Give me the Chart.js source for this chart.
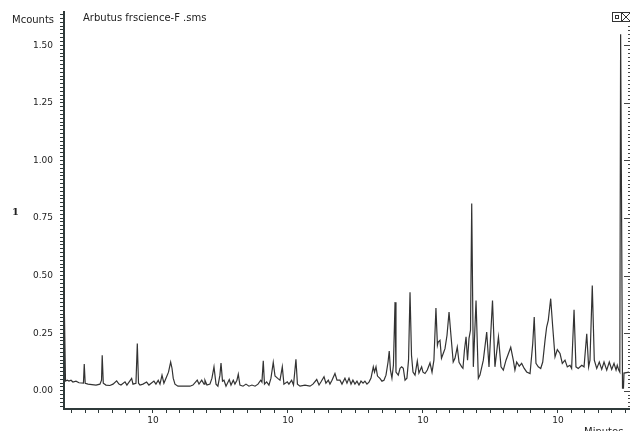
<!DOCTYPE html>
<html>
<head>
<meta charset="utf-8">
<script src="https://cdn.jsdelivr.net/npm/chart.js@4.4.1/dist/chart.umd.min.js"></script>
<style>
  html, body { margin: 0; padding: 0; background: #ffffff; }
  #wrap { position: relative; width: 630px; height: 431px; }
  canvas { display: block; }
</style>
</head>
<body>
<div id="wrap"><canvas id="chart" width="630" height="431"></canvas></div>
<script>
// Total ion chromatogram, retention time (minutes) vs. intensity (Mcounts)
const fileTitle = 'Arbutus frscience-F .sms';
const yUnit = 'Mcounts';
const xUnit = 'Minutes';
const sideMark = '1';

// retention times (min)
const times = [
  3.41, 3.52, 3.65, 3.78, 3.93, 4.07, 4.30, 4.52, 4.85, 4.91, 4.98, 5.19, 5.48, 5.78, 6.07, 6.19, 6.24, 6.32,
  6.52, 6.81, 7.04, 7.31, 7.48, 7.63, 7.93, 8.07, 8.42, 8.52, 8.74, 8.84, 8.93, 9.04, 9.26, 9.53, 9.70,
  10.07, 10.22, 10.39, 10.52, 10.67, 10.81, 11.01, 11.15, 11.31, 11.41, 11.50, 11.63, 11.85, 12.37, 12.74,
  12.96, 13.28, 13.41, 13.61, 13.78, 13.85, 14.00, 14.22, 14.37, 14.52, 14.67, 14.81, 14.96, 15.04, 15.15,
  15.26, 15.41, 15.65, 15.78, 15.95, 16.07, 16.22, 16.32, 16.44, 16.67, 16.89, 17.11, 17.33, 17.56, 17.78,
  17.98, 18.07, 18.17, 18.26, 18.42, 18.59, 18.74, 18.91, 19.04, 19.24, 19.41, 19.58, 19.70, 19.95, 20.07,
  20.27, 20.41, 20.59, 20.70, 20.89, 21.26, 21.63, 21.85, 22.13, 22.30, 22.44, 22.67, 22.81, 22.99, 23.11,
  23.26, 23.48, 23.63, 23.85, 24.00, 24.22, 24.37, 24.52, 24.67, 24.81, 24.96, 25.11, 25.26, 25.41, 25.56,
  25.70, 25.85, 26.00, 26.15, 26.32, 26.41, 26.52, 26.63, 26.81, 26.96, 27.11, 27.26, 27.41, 27.50, 27.59,
  27.70, 27.81, 27.93, 28.00, 28.17, 28.30, 28.42, 28.54, 28.67, 28.81, 28.93, 29.04, 29.15, 29.26, 29.41,
  29.58, 29.70, 29.90, 30.00, 30.15, 30.32, 30.52, 30.67, 30.81, 30.96, 31.07, 31.13, 31.26, 31.37, 31.50,
  31.63, 31.78, 31.93, 32.04, 32.24, 32.37, 32.54, 32.67, 32.87, 32.96, 33.07, 33.19, 33.30, 33.41, 33.52,
  33.61, 33.73, 33.93, 34.10, 34.22, 34.47, 34.72, 34.89, 35.15, 35.33, 35.59, 35.78, 35.95, 36.15, 36.50,
  36.69, 36.81, 36.94, 37.13, 37.31, 37.50, 37.68, 37.93, 38.13, 38.24, 38.37, 38.54, 38.72, 38.87, 39.04,
  39.16, 39.28, 39.46, 39.61, 39.78, 39.95, 40.15, 40.32, 40.52, 40.69, 40.89, 41.01, 41.19, 41.33, 41.50,
  41.76, 41.93, 42.13, 42.27, 42.37, 42.54, 42.69, 42.87, 43.06, 43.24, 43.41, 43.61, 43.80, 43.98, 44.15,
  44.30, 44.39, 44.50, 44.58, 44.64, 44.78, 44.85, 44.89, 45.26
];

// intensity (Mcounts)
const counts = [
  0.449, 0.042, 0.046, 0.042, 0.046, 0.038, 0.042, 0.035, 0.033, 0.116, 0.033, 0.029, 0.027, 0.025, 0.029, 0.046, 0.154, 0.033,
  0.025, 0.023, 0.029, 0.043, 0.029, 0.025, 0.039, 0.025, 0.054, 0.029, 0.033, 0.205, 0.033, 0.025, 0.029, 0.038, 0.025,
  0.042, 0.029, 0.046, 0.029, 0.068, 0.033, 0.061, 0.081, 0.125, 0.098, 0.055, 0.029, 0.020, 0.020, 0.020,
  0.025, 0.046, 0.029, 0.046, 0.029, 0.046, 0.025, 0.029, 0.055, 0.104, 0.029, 0.020, 0.068, 0.121, 0.042,
  0.046, 0.020, 0.049, 0.025, 0.046, 0.029, 0.046, 0.072, 0.025, 0.020, 0.029, 0.020, 0.025, 0.020, 0.029,
  0.046, 0.038, 0.130, 0.029, 0.039, 0.025, 0.055, 0.123, 0.064, 0.054, 0.046, 0.104, 0.029, 0.039, 0.029,
  0.046, 0.025, 0.137, 0.029, 0.020, 0.025, 0.020, 0.029, 0.049, 0.025, 0.038, 0.061, 0.033, 0.046, 0.029,
  0.046, 0.075, 0.046, 0.046, 0.029, 0.055, 0.033, 0.055, 0.029, 0.046, 0.029, 0.042, 0.025, 0.042, 0.033,
  0.042, 0.029, 0.038, 0.055, 0.104, 0.081, 0.104, 0.064, 0.054, 0.042, 0.046, 0.068, 0.124, 0.173, 0.090,
  0.055, 0.111, 0.385, 0.081, 0.068, 0.098, 0.104, 0.098, 0.046, 0.055, 0.133, 0.428, 0.154, 0.081, 0.068,
  0.129, 0.077, 0.104, 0.081, 0.075, 0.090, 0.121, 0.081, 0.133, 0.359, 0.198, 0.212, 0.219, 0.141, 0.162,
  0.183, 0.241, 0.342, 0.263, 0.125, 0.141, 0.190, 0.124, 0.104, 0.098, 0.176, 0.234, 0.133, 0.228, 0.263,
  0.813, 0.104, 0.392, 0.054, 0.068, 0.133, 0.255, 0.104, 0.392, 0.104, 0.234, 0.104, 0.090, 0.133, 0.189,
  0.133, 0.090, 0.125, 0.107, 0.119, 0.097, 0.082, 0.075, 0.205, 0.320, 0.119, 0.104, 0.097, 0.125, 0.219,
  0.277, 0.306, 0.400, 0.277, 0.147, 0.179, 0.162, 0.119, 0.133, 0.104, 0.111, 0.097, 0.352, 0.104, 0.097,
  0.111, 0.104, 0.248, 0.104, 0.133, 0.457, 0.133, 0.097, 0.125, 0.093, 0.125, 0.090, 0.125, 0.093, 0.119,
  0.090, 0.111, 0.090, 0.081, 1.548, 0.012, 0.012, 0.077, 0.081
];

// axis labels
const yTickValues = [0, 0.25, 0.5, 0.75, 1.0, 1.25, 1.5];
const yTickLabels = ['0.00', '0.25', '0.50', '0.75', '1.00', '1.25', '1.50'];
const xTickValues = [10, 20, 30, 40];
const xTickLabels = ['10', '10', '10', '10'];

const X_MIN = 3.41, X_MAX = 45.26;
const Y_MIN = -0.079, Y_MAX = 1.643;
const Y_MINOR_PER_MAJOR = 15;
const AXIS_COLOR = '#2f3a3a';
const FONT = 'DejaVu Sans';

function yMinorTicks() {
  const out = [];
  const step = 0.25 / Y_MINOR_PER_MAJOR;
  const k0 = Math.ceil(Y_MIN / step), k1 = Math.floor(Y_MAX / step);
  for (let k = k0; k <= k1; k++) out.push({ value: k * step, major: k % Y_MINOR_PER_MAJOR === 0 });
  return out;
}
function xMinorTicks() {
  const out = [];
  for (let m = Math.ceil(X_MIN); m <= Math.floor(X_MAX); m++) out.push({ value: m });
  return out;
}
function labelFor(values, labels, v) {
  for (let i = 0; i < values.length; i++) if (Math.abs(values[i] - v) < 1e-6) return labels[i];
  return '';
}

// captions, icon box and the dotted right-hand axis
const decorations = {
  id: 'decorations',
  afterDraw(chart) {
    const { ctx } = chart;
    const ys = chart.scales.y;
    ctx.save();
    ctx.fillStyle = '#222';
    ctx.textBaseline = 'alphabetic';
    ctx.textAlign = 'left';
    ctx.font = '10px "' + FONT + '"';
    ctx.fillText(yUnit, 12, 23);
    ctx.fillText(fileTitle, 83, 21);
    ctx.fillText(xUnit, 584, 435);
    ctx.font = 'bold 10px "DejaVu Serif"';
    ctx.fillText(sideMark, 12, 215);

    // right-hand axis: tick dashes only
    ctx.strokeStyle = '#444';
    ctx.lineWidth = 1;
    ys.ticks.forEach(t => {
      const py = Math.round(ys.getPixelForValue(t.value)) + 0.5;
      if (py < 26) return;
      ctx.beginPath();
      ctx.moveTo(t.major ? 624 : 628, py);
      ctx.lineTo(630, py);
      ctx.stroke();
    });

    // small icon pair in the top-right corner
    ctx.strokeStyle = '#333';
    ctx.lineWidth = 1;
    ctx.strokeRect(612.5, 12.5, 9, 9);
    ctx.strokeRect(615.5, 15.5, 3, 3);
    ctx.strokeRect(621.5, 12.5, 9, 9);
    ctx.beginPath();
    ctx.moveTo(622, 13); ctx.lineTo(630, 21);
    ctx.moveTo(630, 13); ctx.lineTo(622, 21);
    ctx.stroke();
    ctx.restore();
  }
};

new Chart(document.getElementById('chart'), {
  type: 'line',
  data: {
    datasets: [{
      data: times.map((t, i) => ({ x: t, y: counts[i] })),
      borderColor: '#333333',
      borderWidth: 1.2,
      pointRadius: 0,
      tension: 0,
      fill: false
    }]
  },
  options: {
    responsive: false,
    animation: false,
    devicePixelRatio: 1,
    layout: { padding: { top: 11, right: 1, left: 0, bottom: 0 } },
    plugins: { legend: { display: false }, tooltip: { enabled: false }, title: { display: false } },
    scales: {
      x: {
        type: 'linear',
        min: X_MIN,
        max: X_MAX,
        afterBuildTicks: s => { s.ticks = xMinorTicks(); },
        afterFit: s => { s.height = 22; },
        ticks: {
          autoSkip: false,
          maxRotation: 0,
          padding: 2,
          color: '#222',
          font: { family: FONT, size: 9 },
          callback: v => labelFor(xTickValues, xTickLabels, v)
        },
        grid: { drawOnChartArea: false, drawTicks: true, tickLength: 4, color: AXIS_COLOR, lineWidth: 1 },
        border: { display: true, color: AXIS_COLOR, width: 2 }
      },
      y: {
        type: 'linear',
        min: Y_MIN,
        max: Y_MAX,
        afterBuildTicks: s => { s.ticks = yMinorTicks(); },
        afterFit: s => { s.width = 64; },
        ticks: {
          autoSkip: false,
          padding: 7,
          color: '#222',
          font: { family: FONT, size: 9 },
          callback: v => labelFor(yTickValues, yTickLabels, v)
        },
        grid: { drawOnChartArea: false, drawTicks: true, tickLength: 4, color: AXIS_COLOR, lineWidth: 1 },
        border: { display: true, color: AXIS_COLOR, width: 2 }
      }
    }
  },
  plugins: [decorations]
});
</script>
</body>
</html>
